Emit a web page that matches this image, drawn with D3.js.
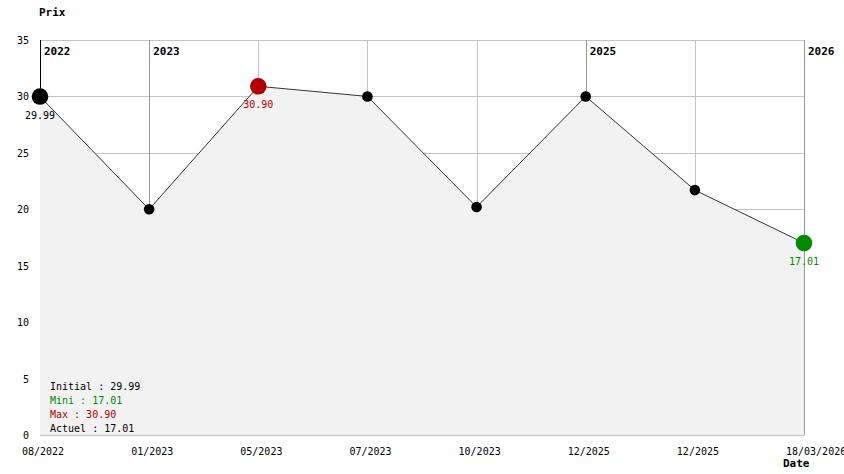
<!DOCTYPE html>
<html>
<head>
<meta charset="utf-8">
<script src="https://cdn.jsdelivr.net/npm/d3@7"></script>
<style>
  html, body { margin: 0; padding: 0; background: #fff; }
  svg { display: block; }
  text { font-family: "DejaVu Sans Mono", "Liberation Mono", monospace; }
</style>
</head>
<body>
<svg id="chart" width="844" height="474"></svg>
<script>
// ---- data ----
const dateLabels = ["08/2022", "01/2023", "05/2023", "07/2023", "10/2023", "12/2025", "12/2025", "18/03/2026"];
const prices = [29.99, 20.0, 30.90, 30.0, 20.2, 30.0, 21.7, 17.01];
const yearIndex = [0, 1, 5, 7];
const yearLabels = ["2022", "2023", "2025", "2026"];
const yTicks = [0, 5, 10, 15, 20, 25, 30, 35];
const legendLines = ["Initial : 29.99", "Mini : 17.01", "Max : 30.90", "Actuel : 17.01"];
const legendKinds = ["normal", "min", "max", "normal"];

(function () {
// ---- layout ----
const plotLeft = 40, plotRight = 804, plotTop = 40, plotBottom = 435;
const RED = "#b00000", GREEN = "#008a00";

const svg = d3.select("#chart");
const idx = d3.range(prices.length);
const x = d3.scalePoint().domain(idx).range([plotLeft, plotRight]);
const y = d3.scaleLinear().domain([0, 35]).range([plotBottom, plotTop]);

const minV = d3.min(prices), maxV = d3.max(prices);
const minI = prices.indexOf(minV), maxI = prices.indexOf(maxV);

// horizontal grid
const grid = svg.append("g").attr("shape-rendering", "crispEdges");
grid.selectAll("line.h").data(yTicks).join("line").attr("class", "h")
  .attr("x1", plotLeft).attr("x2", plotRight)
  .attr("y1", d => Math.round(y(d)) + 0.5).attr("y2", d => Math.round(y(d)) + 0.5)
  .attr("stroke", "#c4c4c4");
// vertical grid at each point
grid.selectAll("line.v").data(idx).join("line").attr("class", "v")
  .attr("x1", d => Math.round(x(d)) + 0.5).attr("x2", d => Math.round(x(d)) + 0.5)
  .attr("y1", plotTop).attr("y2", plotBottom)
  .attr("stroke", "#c4c4c4");
// year lines
grid.selectAll("line.yr").data(yearIndex).join("line").attr("class", "yr")
  .attr("x1", d => Math.round(x(d)) + 0.5).attr("x2", d => Math.round(x(d)) + 0.5)
  .attr("y1", plotTop).attr("y2", plotBottom)
  .attr("stroke", (d, i) => i === 0 ? "#000" : "#999");

// area fill
const area = d3.area().x((d, i) => x(i)).y0(plotBottom).y1(d => y(d));
svg.append("path").datum(prices).attr("d", area).attr("fill", "#f2f2f2");

// line
const line = d3.line().x((d, i) => x(i)).y(d => y(d));
svg.append("path").datum(prices).attr("d", line)
  .attr("fill", "none").attr("stroke", "#333").attr("stroke-width", 1);

// year labels
svg.append("g").selectAll("text").data(yearIndex).join("text")
  .attr("x", d => x(d) + 4).attr("y", plotTop + 15)
  .attr("font-size", 11).attr("font-weight", "bold").attr("fill", "#000")
  .text((d, i) => yearLabels[i]);

// dots
function dotColor(i) {
  if (i === maxI) return RED;
  if (i === minI) return GREEN;
  return "#000";
}
function dotR(i) {
  return (i === 0 || i === maxI || i === minI) ? 8.3 : 5.3;
}
svg.append("g").selectAll("circle").data(prices).join("circle")
  .attr("cx", (d, i) => x(i)).attr("cy", d => y(d))
  .attr("r", (d, i) => dotR(i))
  .attr("fill", (d, i) => dotColor(i));

// value labels for initial, max, min
const labelIdx = [0, maxI, minI];
svg.append("g").selectAll("text").data(labelIdx).join("text")
  .attr("x", d => x(d)).attr("y", d => y(prices[d]) + 22)
  .attr("text-anchor", "middle").attr("font-size", 10)
  .attr("fill", d => d === 0 ? "#000" : dotColor(d))
  .text(d => prices[d].toFixed(2));

// y axis labels
svg.append("g").selectAll("text").data(yTicks).join("text")
  .attr("x", 29).attr("y", d => y(d) + 4)
  .attr("text-anchor", "end").attr("font-size", 10).attr("fill", "#000")
  .text(d => d);

// x axis labels
svg.append("g").selectAll("text").data(idx).join("text")
  .attr("x", d => x(d) - 18).attr("y", 455)
  .attr("font-size", 10).attr("fill", "#000")
  .text(d => dateLabels[d]);

// axis titles
svg.append("text").attr("x", 39).attr("y", 16)
  .attr("font-size", 11).attr("font-weight", "bold").text("Prix");
svg.append("text").attr("x", 783).attr("y", 467)
  .attr("font-size", 11).attr("font-weight", "bold").text("Date");

// legend
svg.append("g").selectAll("text").data(legendLines).join("text")
  .attr("x", 50).attr("y", (d, i) => 390 + i * 14)
  .attr("font-size", 10)
  .attr("fill", (d, i) => legendKinds[i] === "min" ? GREEN : legendKinds[i] === "max" ? RED : "#000")
  .text(d => d);
})();
</script>
</body>
</html>
